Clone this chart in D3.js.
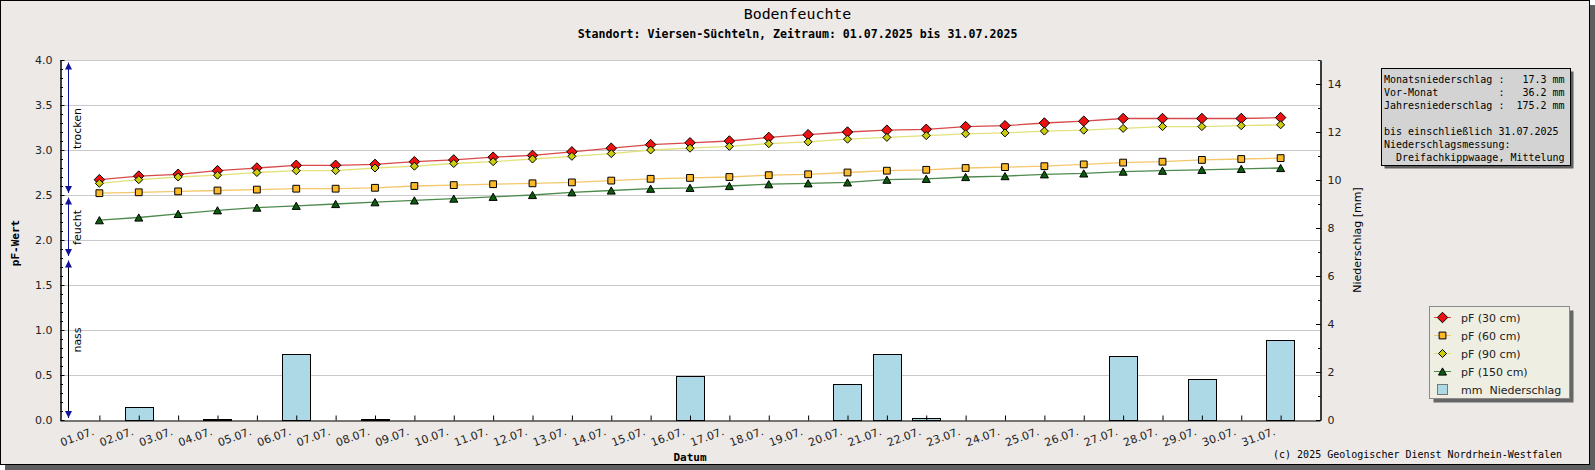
<!DOCTYPE html>
<html>
<head>
<meta charset="utf-8">
<script src="https://cdn.jsdelivr.net/npm/d3@7"></script>
<style>
  body { margin: 0; background: #fff; }
</style>
</head>
<body>
<div id="chart"></div>
<script>
// ---- data ----
const dayLabels = ["01.07.", "02.07.", "03.07.", "04.07.", "05.07.", "06.07.", "07.07.", "08.07.",
    "09.07.", "10.07.", "11.07.", "12.07.", "13.07.", "14.07.", "15.07.", "16.07.", "17.07.", "18.07.",
    "19.07.", "20.07.", "21.07.", "22.07.", "23.07.", "24.07.", "25.07.", "26.07.", "27.07.", "28.07.",
    "29.07.", "30.07.", "31.07."];

const pf30 = [2.67, 2.71, 2.73, 2.77, 2.80, 2.83, 2.83, 2.84, 2.87, 2.89, 2.92, 2.94, 2.98, 3.02, 3.06, 3.08,
    3.10, 3.14, 3.17, 3.20, 3.22, 3.23, 3.26, 3.27, 3.30, 3.32, 3.35, 3.35, 3.35, 3.35, 3.36];
const pf60 = [2.52, 2.53, 2.54, 2.55, 2.56, 2.57, 2.57, 2.58, 2.60, 2.61, 2.62, 2.63, 2.64, 2.66, 2.68, 2.69,
    2.70, 2.72, 2.73, 2.75, 2.77, 2.78, 2.80, 2.81, 2.82, 2.84, 2.86, 2.87, 2.89, 2.90, 2.91];
const pf90 = [2.63, 2.67, 2.70, 2.72, 2.75, 2.77, 2.77, 2.80, 2.82, 2.85, 2.87, 2.90, 2.93, 2.96, 3.00, 3.02,
    3.04, 3.07, 3.09, 3.12, 3.14, 3.16, 3.18, 3.19, 3.21, 3.22, 3.24, 3.26, 3.26, 3.27, 3.28];
const pf150 = [2.22, 2.25, 2.29, 2.33, 2.36, 2.38, 2.40, 2.42, 2.44, 2.46, 2.48, 2.50, 2.53, 2.55, 2.57, 2.58,
    2.60, 2.62, 2.63, 2.64, 2.67, 2.68, 2.70, 2.71, 2.73, 2.74, 2.76, 2.77, 2.78, 2.79, 2.80];
const precip = [0, 0.55, 0, 0.05, 0, 2.75, 0, 0.05, 0, 0, 0, 0, 0, 0, 0, 1.85,
    0, 0, 0, 1.5, 2.75, 0.1, 0, 0, 0, 0, 2.65, 0, 1.7, 0, 3.35];

const pfTicks = [0, 0.5, 1, 1.5, 2, 2.5, 3, 3.5, 4];
const mmTicks = [0, 2, 4, 6, 8, 10, 12, 14];

const zoneLabels = ["trocken", "feucht", "nass"];
const zoneBounds = [[2.5, 4.0], [1.8, 2.5], [0, 1.8]];

const infoLines = [
    "Monatsniederschlag :   17.3 mm",
    "Vor-Monat          :   36.2 mm",
    "Jahresniederschlag :  175.2 mm",
    "",
    "bis einschließlich 31.07.2025",
    "Niederschlagsmessung:",
    "  Dreifachkippwaage, Mittelung"
];

const legendLabels = ["pF (30 cm)", "pF (60 cm)", "pF (90 cm)", "pF (150 cm)", "mm  Niederschlag"];

// ---- layout / styles ----
const width = 1595, height = 470;
const plotLeft = 60, plotRight = 1320, plotTop = 60, plotBottom = 420;
const bgColor = "#ece9e7";
const gridColor = "#c9c9c9";
const zoneColor = "#12129a";
const mono = "DejaVu Sans Mono";
const sans = "DejaVu Sans";

// custom marker shapes
const diamond = { draw(ctx, size) { const r = Math.sqrt(size) / 2; ctx.moveTo(0, -r); ctx.lineTo(r, 0); ctx.lineTo(0, r); ctx.lineTo(-r, 0); ctx.closePath(); } };
const square = { draw(ctx, size) { const r = Math.sqrt(size) / 2; ctx.rect(-r, -r, 2 * r, 2 * r); } };
const triangle = { draw(ctx, size) { const r = Math.sqrt(size) / 2; ctx.moveTo(0, -r * 0.9); ctx.lineTo(r, r * 0.9); ctx.lineTo(-r, r * 0.9); ctx.closePath(); } };

const series = [
    { values: pf30, line: "#d84a4a", fill: "#ee1111", shape: diamond, size: 110 },
    { values: pf60, line: "#f3c76a", fill: "#fbb829", shape: square, size: 46 },
    { values: pf90, line: "#e2e27a", fill: "#cccc11", shape: diamond, size: 64 },
    { values: pf150, line: "#4d8a4d", fill: "#0b5d0b", shape: triangle, size: 64 }
];

const svg = d3.select("#chart").append("svg")
    .attr("width", width)
    .attr("height", height);

// background, shadow and frame
svg.append("rect").attr("x", 5).attr("y", 5).attr("width", width - 5).attr("height", height - 5).attr("fill", "#5f5f5f");
svg.append("rect").attr("x", 0.5).attr("y", 0.5).attr("width", 1589).attr("height", 464)
    .attr("fill", bgColor).attr("stroke", "#000");

// scales
const x = d3.scaleLinear().domain([0, 32]).range([plotLeft, plotRight]);
const y = d3.scaleLinear().domain([0, 4]).range([plotBottom, plotTop]);
const yR = d3.scaleLinear().domain([0, 15]).range([plotBottom, plotTop]);
const barWidth = (x(1) - x(0)) * 0.72;

// plot area
svg.append("rect").attr("x", plotLeft).attr("y", plotTop)
    .attr("width", plotRight - plotLeft).attr("height", plotBottom - plotTop).attr("fill", "#fff");

// grid
svg.append("g")
    .selectAll("line")
    .data(pfTicks.filter(d => d > 0))
    .enter()
    .append("line")
    .attr("x1", plotLeft).attr("x2", plotRight)
    .attr("y1", d => y(d) + 0.5).attr("y2", d => y(d) + 0.5)
    .attr("stroke", gridColor);

// precipitation bars
svg.append("g")
    .selectAll("rect")
    .data(precip.map((v, i) => ({ day: i + 1, v })).filter(d => d.v > 0))
    .enter()
    .append("rect")
    .attr("x", d => Math.round(x(d.day) - barWidth / 2) + 0.5)
    .attr("y", d => Math.round(yR(d.v)) + 0.5)
    .attr("width", Math.round(barWidth))
    .attr("height", d => Math.max(1, Math.round(yR(0) - yR(d.v))))
    .attr("fill", "#add8e6")
    .attr("stroke", "#000");

// axes
function styleAxis(g) {
    g.attr("font-family", sans).attr("font-size", 11);
    g.select(".domain").attr("stroke", "#000");
    g.selectAll(".tick line").attr("stroke", "#000");
    g.selectAll(".tick text").attr("fill", "#222");
}

svg.append("g")
    .attr("transform", `translate(${plotLeft + 0.5},0)`)
    .call(d3.axisLeft(y).tickValues(d3.range(0, 41).map(d => d / 10)).tickSize(-2.5).tickSizeOuter(0).tickFormat(""))
    .call(styleAxis);
svg.append("g")
    .attr("transform", `translate(${plotLeft + 0.5},0)`)
    .call(d3.axisLeft(y).tickValues(pfTicks).tickSize(-4).tickSizeOuter(0).tickPadding(8).tickFormat(d3.format(".1f")))
    .call(styleAxis);

svg.append("g")
    .attr("transform", `translate(${plotRight + 0.5},0)`)
    .call(d3.axisRight(yR).tickValues(d3.range(0, 16)).tickSize(-2.5).tickSizeOuter(0).tickFormat(""))
    .call(styleAxis);
svg.append("g")
    .attr("transform", `translate(${plotRight + 0.5},0)`)
    .call(d3.axisRight(yR).tickValues(mmTicks).tickSize(-4.5).tickSizeOuter(0).tickPadding(7))
    .call(styleAxis);

const xAxis = svg.append("g")
    .attr("transform", `translate(0,${plotBottom + 0.5})`)
    .call(d3.axisBottom(x).tickValues(d3.range(1, 32)).tickSize(-5).tickSizeOuter(0).tickFormat((d, i) => dayLabels[i]))
    .call(styleAxis);
xAxis.selectAll(".tick text")
    .attr("y", 0).attr("dy", 0)
    .attr("text-anchor", "end")
    .attr("transform", "translate(-5,14) rotate(-20)");

// moisture zones on the left
const defs = svg.append("defs");
defs.append("marker")
    .attr("id", "zone-head")
    .attr("viewBox", [0, 0, 10, 10])
    .attr("refX", 10).attr("refY", 5)
    .attr("markerWidth", 7).attr("markerHeight", 7)
    .attr("markerUnits", "userSpaceOnUse")
    .attr("orient", "auto-start-reverse")
    .append("path")
    .attr("d", d3.line()([[0, 0], [10, 5], [0, 10]]) + "Z")
    .attr("fill", zoneColor);

const zones = svg.append("g");
zones.selectAll("line")
    .data(zoneBounds)
    .enter()
    .append("line")
    .attr("x1", 68.5).attr("x2", 68.5)
    .attr("y1", d => y(d[1]) + 2.5)
    .attr("y2", d => y(d[0]) - 2)
    .attr("stroke", (d, i) => i === 2 ? "#000" : zoneColor)
    .attr("marker-start", "url(#zone-head)")
    .attr("marker-end", "url(#zone-head)");
zones.selectAll("text")
    .data(zoneBounds)
    .enter()
    .append("text")
    .attr("transform", d => `translate(80.5,${(y(d[0]) + y(d[1])) / 2 + 1}) rotate(-90)`)
    .attr("text-anchor", "middle")
    .attr("font-family", sans).attr("font-size", 11)
    .text((d, i) => zoneLabels[i]);

// pF lines and markers
series.forEach(s => {
    svg.append("path")
        .attr("d", d3.line().x((d, i) => x(i + 1)).y(d => y(d))(s.values))
        .attr("fill", "none")
        .attr("stroke", s.line)
        .attr("stroke-width", 1.3);
});
series.forEach(s => {
    svg.append("g")
        .selectAll("path")
        .data(s.values)
        .enter()
        .append("path")
        .attr("transform", (d, i) => `translate(${x(i + 1)},${y(d)})`)
        .attr("d", d3.symbol().type(s.shape).size(s.size))
        .attr("fill", s.fill)
        .attr("stroke", "#000")
        .attr("stroke-width", 1);
});

// titles
svg.append("text").attr("x", 797.5).attr("y", 19).attr("text-anchor", "middle")
    .attr("font-family", mono).attr("font-size", 14.9).text("Bodenfeuchte");
svg.append("text").attr("x", 797.5).attr("y", 37.5).attr("text-anchor", "middle")
    .attr("font-family", mono).attr("font-weight", "bold").attr("font-size", 11.6)
    .text("Standort: Viersen-Süchteln, Zeitraum: 01.07.2025 bis 31.07.2025");

svg.append("text").attr("transform", "translate(19,243) rotate(-90)").attr("text-anchor", "middle")
    .attr("font-family", mono).attr("font-weight", "bold").attr("font-size", 11).text("pF-Wert");
svg.append("text").attr("transform", "translate(1361,240) rotate(-90)").attr("text-anchor", "middle")
    .attr("font-family", sans).attr("font-size", 11).text("Niederschlag [mm]");
svg.append("text").attr("x", (plotLeft + plotRight) / 2).attr("y", 461).attr("text-anchor", "middle")
    .attr("font-family", mono).attr("font-weight", "bold").attr("font-size", 11).text("Datum");
svg.append("text").attr("x", 1562).attr("y", 458).attr("text-anchor", "end")
    .attr("font-family", mono).attr("font-size", 10).text("(c) 2025 Geologischer Dienst Nordrhein-Westfalen");

// info box
const info = svg.append("g").attr("transform", "translate(1381.5,68.5)");
info.append("rect").attr("x", 3).attr("y", 3).attr("width", 189).attr("height", 97).attr("fill", "#5f5f5f");
info.append("rect").attr("width", 189).attr("height", 97).attr("fill", "#d3d3d3").attr("stroke", "#000");
info.selectAll("text")
    .data(infoLines)
    .enter()
    .append("text")
    .attr("x", 2.5)
    .attr("y", (d, i) => 14.5 + i * 13)
    .attr("font-family", mono).attr("font-size", 10)
    .style("white-space", "pre")
    .text(d => d);

// legend
const legend = svg.append("g").attr("transform", "translate(1429.5,306.5)");
legend.append("rect").attr("x", 4).attr("y", 4).attr("width", 140).attr("height", 92).attr("fill", "#666");
legend.append("rect").attr("width", 140).attr("height", 92).attr("fill", "#eeeee2").attr("stroke", "#8a8a8a");
const items = legend.selectAll(".item")
    .data(legendLabels)
    .enter()
    .append("g")
    .attr("transform", (d, i) => `translate(13,${11 + i * 18})`);
items.filter((d, i) => i < 4)
    .append("line")
    .attr("x1", -8.5).attr("x2", 8.5)
    .attr("stroke", (d, i) => series[i].line);
items.filter((d, i) => i < 4)
    .append("path")
    .attr("d", (d, i) => d3.symbol().type(series[i].shape).size(series[i].size)())
    .attr("fill", (d, i) => series[i].fill)
    .attr("stroke", "#000");
items.filter((d, i) => i === 4)
    .append("rect")
    .attr("x", -5).attr("y", -5).attr("width", 10).attr("height", 10)
    .attr("fill", "#add8e6").attr("stroke", "#777");
items.append("text")
    .attr("x", 18.5).attr("y", 4)
    .attr("font-family", sans).attr("font-size", 11)
    .attr("fill", "#222")
    .style("white-space", "pre")
    .text(d => d);
</script>
</body>
</html>
